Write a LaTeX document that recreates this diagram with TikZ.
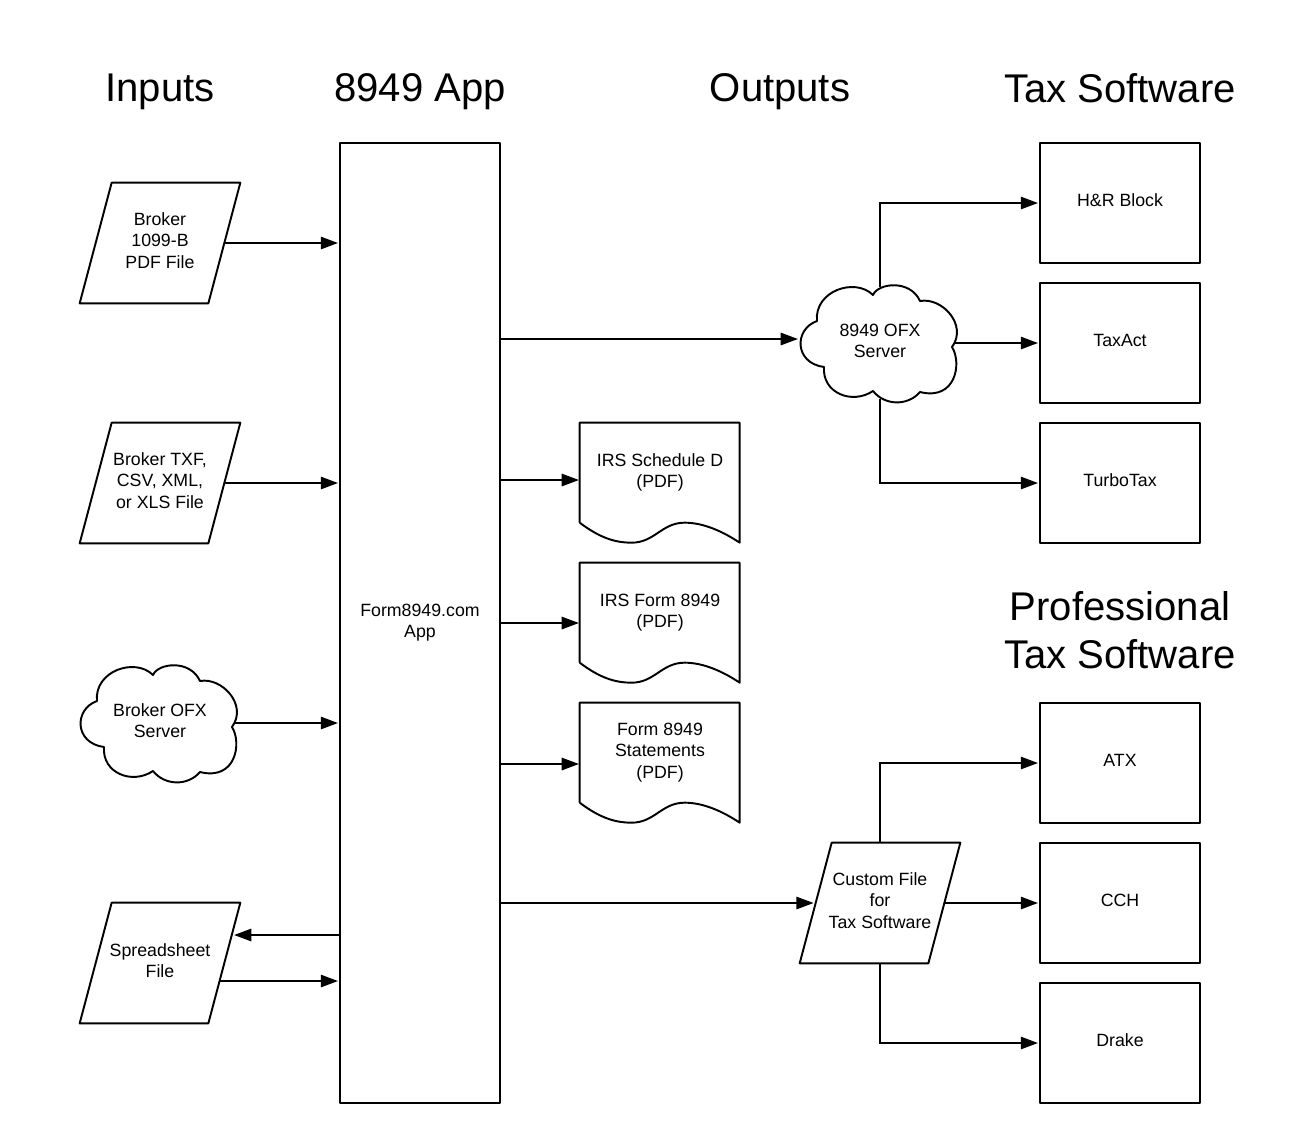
\documentclass[tikz,border=0pt]{standalone}
\usepackage{fontspec}
\setmainfont{Liberation Sans}
\usetikzlibrary{arrows.meta,calc}
\tikzset{
  flow/.style={line width=1.1pt,-{Triangle[length=9.8pt,width=7pt]},shorten >=0.6pt},
  outline/.style={draw=black,line width=1.1pt,line join=round},
  label/.style={align=center,inner sep=0pt,text depth=2.8pt,font=\fontsize{10.1}{12.2}\selectfont},
  heading/.style={align=center,inner sep=0pt,text depth=0pt,font=\fontsize{22.8}{27.2}\selectfont},
  box/.style={label,outline,minimum width=3.2cm,minimum height=2.4cm},
  % parallelogram round a plain node
  lean/.style={label,minimum width=2.6cm,minimum height=2.4cm,
    append after command={\pgfextra{
      \draw[outline] ($(\tikzlastnode.south west)+(-15,0)$) -- ($(\tikzlastnode.north west)+(17,0)$)
        -- ($(\tikzlastnode.north east)+(15,0)$) -- ($(\tikzlastnode.south east)+(-17,0)$) -- cycle;
    }}},
  % page with a wavy foot
  paper/.style={label,minimum width=3.2cm,minimum height=2cm,
    append after command={\pgfextra{
      \draw[outline,shift={(\tikzlastnode.north west)}] (0,100) -- (0,0) -- (160,0) -- (160,120)
        .. controls (145,110) and (125,100) .. (105,100)
        .. controls (82,100) and (75,120) .. (52,120)
        .. controls (35,120) and (20,115) .. (0,100);
    }}},
  cloud/.style={label,minimum width=3cm,minimum height=2.24cm,
    append after command={\pgfextra{
      \draw[outline,shift={(\tikzlastnode.center)}] (-63,-22)
        .. controls (-66,-52) and (-25,-66) .. (-7,-48)
        .. controls (-2,-60) and (30,-64) .. (40,-42)
        .. controls (62,-46) and (88,-18) .. (72,4)
        .. controls (82,20) and (76,58) .. (40,49)
        .. controls (28,63) and (5,63) .. (-7,48)
        .. controls (-28,62) and (-58,50) .. (-56,24)
        .. controls (-86,20) and (-86,-14) .. cycle;
    }}},
}
\begin{document}
\begin{tikzpicture}[x=0.02cm,y=-0.02cm]
  \useasboundingbox (0,0) rectangle (1300,1144);
  % column headings
  \node[heading] (inputs) at (160,88) {Inputs};
  \node[heading] (apphead) at (420,88) {8949 App};
  \node[heading] (outputs) at (780,88) {Outputs};
  \node[heading] (taxhead) at (1120,88) {Tax Software};
  \node[heading] (prohead) at (1120,630) {Professional\\Tax Software};
  % app
  \node[box,minimum height=19.2cm] (app) at (420,623) {Form8949.com\\App};
  % inputs
  \node[lean] (pdf) at (160,243) {Broker\\1099-B\\PDF File};
  \node[lean] (txf) at (160,483) {Broker TXF,\\CSV, XML,\\or XLS File};
  \node[cloud] (brokerofx) at (160,723) {Broker OFX\\Server};
  \node[lean] (sheet) at (160,963) {Spreadsheet\\File};
  % outputs
  \node[paper] (sched) at (660,473) {IRS Schedule D\\(PDF)};
  \node[paper] (form) at (660,613) {IRS Form 8949\\(PDF)};
  \node[paper] (stmt) at (660,753) {Form 8949\\Statements\\(PDF)};
  \node[cloud] (ofx) at (880,343) {8949 OFX\\Server};
  \node[lean] (custom) at (880,903) {Custom File\\for\\Tax Software};
  % tax software
  \node[box] (block) at (1120,203) {H\&R Block};
  \node[box] (taxact) at (1120,343) {TaxAct};
  \node[box] (turbo) at (1120,483) {TurboTax};
  \node[box] (atx) at (1120,763) {ATX};
  \node[box] (cch) at (1120,903) {CCH};
  \node[box] (drake) at (1120,1043) {Drake};
  % free ends
  \coordinate (sheetout) at (233,935);
  \coordinate (sheetin) at (220,981);
  \coordinate (ofxin) at (799,339);
  \coordinate (schedin) at (580,480);
  \coordinate (formin) at (580,623);
  \coordinate (stmtin) at (580,764);
  % into the app
  \draw[flow] (pdf.east) -- (pdf.east -| app.west);
  \draw[flow] (txf.east) -- (txf.east -| app.west);
  \draw[flow] (brokerofx.east) -- (brokerofx.east -| app.west);
  \draw[flow] (sheetout -| app.west) -- (sheetout);
  \draw[flow] (sheetin) -- (sheetin -| app.west);
  % out of the app
  \draw[flow] (ofxin -| app.east) -- (ofxin);
  \draw[flow] (schedin -| app.east) -- (schedin);
  \draw[flow] (formin -| app.east) -- (formin);
  \draw[flow] (stmtin -| app.east) -- (stmtin);
  \draw[flow] (custom.west -| app.east) -- (custom.west);
  % on to the tax software
  \draw[flow] (ofx.north) |- (block.west);
  \draw[flow] (ofx.east) -- (taxact.west);
  \draw[flow] (ofx.south) |- (turbo.west);
  \draw[flow] (custom.north) |- (atx.west);
  \draw[flow] (custom.east) -- (cch.west);
  \draw[flow] (custom.south) |- (drake.west);
\end{tikzpicture}
\end{document}
